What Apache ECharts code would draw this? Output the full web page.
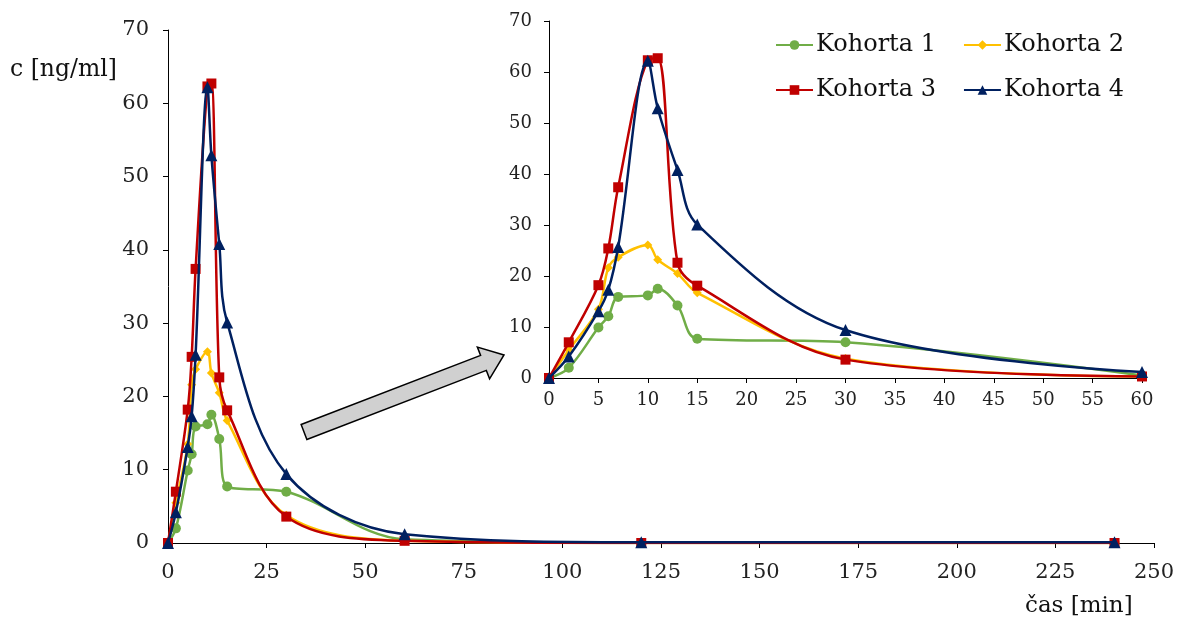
<!DOCTYPE html>
<html>
<head>
<meta charset="utf-8">
<title>Kohorta</title>
<script src="https://cdn.jsdelivr.net/npm/echarts@6/dist/echarts.min.js"></script>
<style>
  html, body { margin: 0; padding: 0; background: #fff; }
  #chart { width: 1177px; height: 619px; }
</style>
</head>
<body>
<div id="chart"></div>
<script>
// sampling times [min]
var times = [0, 2, 5, 6, 7, 10, 11, 13, 15, 30, 60, 120, 240];
// concentrations c [ng/ml]
var kohorta1 = [0, 2.0, 9.9, 12.1, 15.9, 16.2, 17.5, 14.2, 7.7, 7.0, 0.5, 0, 0];
var kohorta2 = [0, 5.5, 13.5, 21.6, 23.7, 26.1, 23.2, 20.5, 16.7, 3.8, 0.3, 0, 0];
var kohorta3 = [0, 7.0, 18.2, 25.4, 37.4, 62.3, 62.7, 22.6, 18.1, 3.6, 0.3, 0, 0];
var kohorta4 = [0, 4.2, 13.1, 17.3, 25.7, 62.2, 52.9, 40.8, 30.1, 9.4, 1.2, 0.1, 0.1];
var names = ['Kohorta 1', 'Kohorta 2', 'Kohorta 3', 'Kohorta 4'];

var font = '"DejaVu Serif", "Liberation Serif", serif';
var colors = ['#70AD47', '#FFC000', '#C00000', '#002060'];
var symbols = ['circle', 'diamond', 'rect', 'triangle'];
var symbolSizes = [10, 9, 10, 12];
var allValues = [kohorta1, kohorta2, kohorta3, kohorta4];

function pairs(vals, maxT){
  var res = [];
  for(var i=0;i<times.length;i++){
    if(times[i] <= maxT) res.push([times[i], vals[i]]);
  }
  return res;
}

var series = [];
// main chart (grid 0) and zoomed inset (grid 1)
for(var g=0;g<2;g++){
  for(var k=0;k<4;k++){
    series.push({
      name: names[k],
      type: 'line',
      xAxisIndex: g,
      yAxisIndex: g,
      smooth: 0.35,
      symbol: symbols[k],
      symbolSize: symbolSizes[k],
      showAllSymbol: true,
      z: 2 + k,
      itemStyle: { color: colors[k] },
      lineStyle: { color: colors[k], width: 2.5 },
      data: pairs(allValues[k], g == 0 ? 240 : 60)
    });
  }
}

function axisX(max, interval, gridIndex, size, margin){
  return {
    type: 'value', gridIndex: gridIndex, min: 0, max: max, interval: interval,
    axisLine: { show: true, lineStyle: { color: '#000', width: 1 } },
    axisTick: { show: true, length: 5, lineStyle: { color: '#000' } },
    axisLabel: { color: '#222', fontFamily: font, fontSize: size, margin: margin },
    splitLine: { show: false }
  };
}
function axisY(gridIndex, size, margin){
  return {
    type: 'value', gridIndex: gridIndex, min: 0, max: 70, interval: 10,
    axisLine: { show: true, lineStyle: { color: '#000', width: 1 } },
    axisTick: { show: true, length: 5, lineStyle: { color: '#000' } },
    axisLabel: { color: '#222', fontFamily: font, fontSize: size, margin: margin },
    splitLine: { show: false }
  };
}

// arrow pointing from main chart to the inset
function arrowPoints(x0, y0, x1, y1, shaftW, headW, headL){
  var dx = x1 - x0, dy = y1 - y0;
  var len = Math.sqrt(dx*dx + dy*dy);
  var ux = dx/len, uy = dy/len, nx = -uy, ny = ux;
  var bx = x1 - ux*headL, by = y1 - uy*headL;
  return [
    [x0 + nx*shaftW/2, y0 + ny*shaftW/2],
    [bx + nx*shaftW/2, by + ny*shaftW/2],
    [bx + nx*headW/2, by + ny*headW/2],
    [x1, y1],
    [bx - nx*headW/2, by - ny*headW/2],
    [bx - nx*shaftW/2, by - ny*shaftW/2],
    [x0 - nx*shaftW/2, y0 - ny*shaftW/2]
  ];
}

var legendCommon = {
  itemWidth: 37, itemHeight: 12, itemGap: 27,
  textStyle: { fontFamily: font, fontSize: 24, color: '#111', padding: [0, 0, 0, -2] },
  left: 770
};

var option = {
  animation: false,
  backgroundColor: '#fff',
  grid: [
    { left: 168, top: 30, right: 23, bottom: 76 },
    { left: 549, top: 21, right: 35, bottom: 241 }
  ],
  xAxis: [axisX(250, 25, 0, 21, 19), axisX(60, 5, 1, 18, 13)],
  yAxis: [axisY(0, 21, 19), axisY(1, 18, 17)],
  legend: [
    Object.assign({ data: [names[0], names[1]], top: 28 }, legendCommon),
    Object.assign({ data: [names[2], names[3]], top: 73 }, legendCommon)
  ],
  graphic: [
    { type: 'text', left: 10, top: 58, style: { text: 'c [ng/ml]', fontFamily: font, fontSize: 23.5, fill: '#111' } },
    { type: 'text', left: 1025, top: 595, style: { text: 'čas [min]', fontFamily: font, fontSize: 23, fill: '#111' } },
    { type: 'polygon', z: 1, shape: { points: arrowPoints(304, 432, 504, 355, 16, 34, 22) },
      style: { fill: '#D0D0D0', stroke: '#000', lineWidth: 1.5 } }
  ],
  series: series
};

var chart = echarts.init(document.getElementById('chart'), null, { renderer: 'canvas' });
chart.setOption(option);
</script>
</body>
</html>
